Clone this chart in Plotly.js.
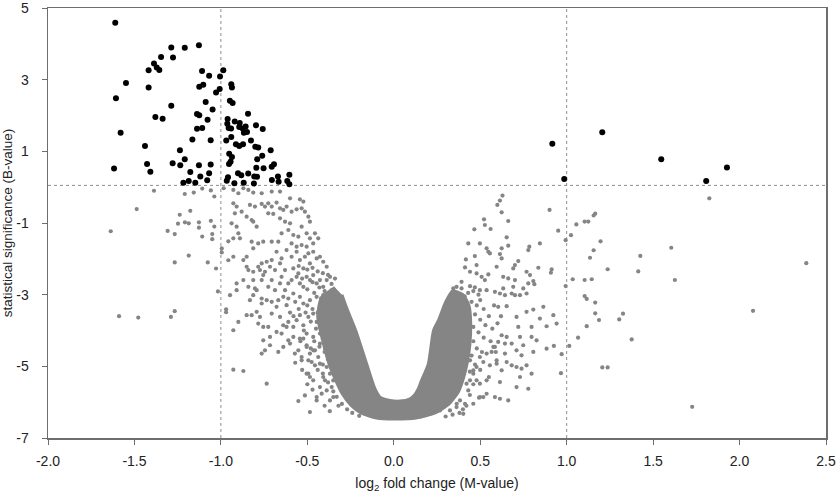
<!DOCTYPE html>
<html>
<head>
<meta charset="utf-8">
<script src="https://cdn.plot.ly/plotly-3.0.1.min.js"></script>
<style>html,body{margin:0;padding:0;background:#fff;}#chart{width:836px;height:496px;}</style>
</head>
<body>
<div id="chart"></div>
<script>
// ---- tick labels ----
const xTickVals = [-2, -1.5, -1, -0.5, 0, 0.5, 1, 1.5, 2, 2.5];
const xTickText = ['-2.0', '-1.5', '-1.0', '-0.5', '0.0', '0.5', '1.0', '1.5', '2.0', '2.5'];
const yTickVals = [-7, -5, -3, -1, 1, 3, 5];
const yTickText = ['-7', '-5', '-3', '-1', '1', '3', '5'];

// ---- significance thresholds (M and B) ----
const thresholdM = [-1, 1];
const thresholdB = 0.05;

// ---- significant genes (black), [M, B] ----
const sigLeft = [
[-1.611,4.59],[-1.607,2.48],[-1.549,2.91],[-1.580,1.52],[-1.618,0.52],[-1.418,3.26],[-1.418,2.78],[-1.387,3.45],
[-1.371,3.34],[-1.356,3.27],[-1.346,3.63],[-1.287,3.90],[-1.277,3.62],[-1.209,3.89],[-1.127,3.96],[-1.287,2.27],
[-1.379,1.96],[-1.337,1.91],[-1.439,1.15],[-1.427,0.65],[-1.408,0.43],[-1.279,0.67],[-1.237,1.03],[-1.235,0.61],
[-1.209,0.78],[-1.165,1.33],[-1.177,0.42],[-1.217,0.12],[-1.186,0.17],[-1.148,0.12],[-1.127,0.61],[-1.119,0.30],
[-1.079,0.19],[-1.068,0.39],[-1.059,0.63],[-1.059,1.31],[-1.138,1.63],[-1.108,1.65],[-1.138,2.04],[-1.125,2.01],
[-1.077,1.88],[-1.048,2.17],[-1.088,2.38],[-1.125,2.80],[-1.102,2.86],[-1.109,3.24],[-1.068,3.11],[-1.028,2.64],
[-1.007,2.74],[-1.005,3.09],[-0.986,3.26],[-0.940,2.87],[-0.936,2.78],[-0.948,2.41],[-0.932,2.35],[-0.961,1.90],
[-0.963,1.77],[-0.955,1.65],[-0.920,1.83],[-0.941,1.64],[-0.969,1.30],[-0.940,1.40],[-0.913,1.20],[-0.952,0.93],
[-0.936,0.84],[-0.944,0.71],[-0.953,0.65],[-0.959,0.28],[-0.966,0.18],[-0.901,0.39],[-0.882,0.33],[-0.868,0.12],
[-0.842,0.38],[-0.894,1.68],[-0.891,1.79],[-0.874,1.64],[-0.857,1.69],[-0.867,1.52],[-0.849,1.54],[-0.843,2.05],
[-0.894,1.15],[-0.872,1.20],[-0.826,1.30],[-0.797,1.73],[-0.758,1.62],[-0.801,1.13],[-0.784,1.11],[-0.761,0.88],
[-0.790,0.78],[-0.712,1.03],[-0.795,0.54],[-0.753,0.53],[-0.807,0.30],[-0.791,0.29],[-0.809,0.10],[-0.706,0.57],
[-0.693,0.64],[-0.705,0.20],[-0.670,0.30],[-0.922,0.11],[-0.666,0.15],[-0.616,0.17],[-0.604,0.35],[-0.604,0.08]
];
const sigRight = [[0.917,1.21],[0.986,0.23],[1.206,1.53],[1.547,0.78],[1.807,0.17],[1.927,0.55]];

// ---- non-significant genes (grey), [M, B] ----
const grayFarLeft = [
[-1.387,-0.10],[-1.487,-0.61],[-1.637,-1.23],[-1.209,-0.19],[-1.157,-0.15],[-1.108,-0.04],[-1.058,-0.09],[-1.038,-0.26],
[-1.177,-0.66],[-1.238,-0.77],[-1.248,-1.02],[-1.208,-0.98],[-1.186,-1.01],[-1.127,-0.98],[-1.127,-1.13],[-1.058,-0.94],
[-1.038,-1.10],[-1.308,-1.22],[-1.267,-1.31],[-1.108,-1.38],[-1.050,-1.31],[-1.050,-1.45],[-0.995,-1.71],[-0.995,-1.82],
[-1.186,-1.91],[-1.267,-2.10],[-1.076,-2.10],[-1.028,-2.27],[-1.017,-2.91],[-1.267,-3.46],[-1.289,-3.62],[-1.589,-3.60],
[-1.478,-3.64],[-0.970,-3.41],[-0.970,-3.49],[-0.984,-0.03],[-0.957,-1.51],[-0.957,-2.04]
];
const grayLeftArm = [
[-0.928,-0.077],[-0.899,-0.170],[-0.870,-0.030],[-0.841,-0.077],[-0.813,-0.151],[-0.764,-0.170],[-0.706,-0.123],[-0.658,-0.123],
[-0.600,-0.310],[-0.543,-0.338],[-0.523,-0.403],[-0.928,-0.450],[-0.909,-0.543],[-0.880,-0.683],[-0.919,-0.729],[-0.832,-0.496],
[-0.803,-0.543],[-0.764,-0.468],[-0.745,-0.543],[-0.726,-0.450],[-0.706,-0.543],[-0.678,-0.431],[-0.658,-0.590],[-0.639,-0.636],
[-0.620,-0.543],[-0.591,-0.683],[-0.562,-0.618],[-0.533,-0.590],[-0.514,-0.683],[-0.494,-0.823],[-0.485,-0.963],[-0.851,-0.823],
[-0.822,-0.916],[-0.813,-0.963],[-0.793,-1.102],[-0.658,-0.869],[-0.629,-0.963],[-0.600,-1.009],[-0.726,-0.729],[-0.697,-0.748],
[-0.938,-1.009],[-0.909,-1.102],[-0.899,-1.289],[-0.890,-1.429],[-0.928,-1.429],[-0.822,-1.522],[-0.784,-1.569],[-0.755,-1.522],
[-0.706,-1.522],[-0.668,-1.522],[-0.649,-1.289],[-0.610,-1.196],[-0.581,-1.335],[-0.552,-1.382],[-0.533,-1.102],[-0.504,-1.289],
[-0.485,-1.429],[-0.456,-1.289],[-0.437,-1.429],[-0.466,-1.569],[-0.591,-1.569],[-0.562,-1.662],[-0.533,-1.615],[-0.504,-1.662],
[-0.928,-1.942],[-0.870,-2.035],[-0.851,-1.942],[-0.813,-1.708],[-0.784,-2.221],[-0.764,-2.128],[-0.735,-2.081],[-0.706,-2.035],
[-0.678,-1.802],[-0.649,-1.988],[-0.620,-1.755],[-0.591,-1.942],[-0.562,-1.802],[-0.543,-2.035],[-0.514,-1.942],[-0.494,-1.848],
[-0.466,-1.802],[-0.446,-1.988],[-0.427,-1.942],[-0.408,-2.081],[-0.388,-2.221],[-0.485,-2.128],[-0.523,-2.268],[-0.552,-2.408],
[-0.581,-2.268],[-0.629,-2.314],[-0.658,-2.128],[-0.687,-2.314],[-0.716,-2.221],[-0.745,-2.361],[-0.774,-2.314],[-0.813,-2.361],
[-0.841,-2.314],[-0.851,-2.221],[-0.947,-3.014],[-0.909,-2.687],[-0.909,-2.874],[-0.870,-2.594],[-0.841,-2.781],[-0.813,-2.594],
[-0.803,-2.827],[-0.764,-2.594],[-0.755,-2.454],[-0.726,-2.781],[-0.706,-2.594],[-0.687,-2.874],[-0.658,-2.687],[-0.649,-2.501],
[-0.629,-2.874],[-0.610,-2.687],[-0.591,-2.594],[-0.562,-2.501],[-0.543,-2.687],[-0.523,-2.781],[-0.504,-2.501],[-0.485,-2.594],
[-0.466,-2.454],[-0.446,-2.687],[-0.427,-2.594],[-0.408,-2.781],[-0.388,-2.594],[-0.369,-2.501],[-0.359,-2.874],[-0.543,-3.060],
[-0.581,-2.967],[-0.610,-3.107],[-0.639,-3.060],[-0.668,-3.154],[-0.706,-3.200],[-0.735,-3.154],[-0.764,-3.107],[-0.793,-2.874],
[-0.813,-3.014],[-0.832,-3.154],[-0.764,-3.247],[-0.678,-3.340],[-0.620,-3.294],[-0.523,-3.247],[-0.485,-3.154],[-0.446,-3.060],
[-0.408,-3.014],[-0.369,-3.200],[-0.331,-2.967],[-0.928,-3.993],[-0.899,-3.760],[-0.851,-3.573],[-0.822,-3.573],[-0.793,-3.480],
[-0.774,-3.620],[-0.784,-3.806],[-0.755,-3.900],[-0.726,-3.900],[-0.706,-3.527],[-0.658,-3.620],[-0.639,-3.853],[-0.610,-3.760],
[-0.581,-3.900],[-0.562,-3.713],[-0.543,-3.573],[-0.523,-3.853],[-0.494,-3.620],[-0.466,-3.527],[-0.446,-3.760],[-0.427,-3.900],
[-0.408,-3.666],[-0.379,-3.527],[-0.350,-3.713],[-0.388,-3.993],[-0.427,-4.086],[-0.466,-4.179],[-0.504,-4.086],[-0.543,-4.226],
[-0.581,-4.179],[-0.610,-4.273],[-0.649,-4.086],[-0.678,-4.039],[-0.716,-4.179],[-0.755,-4.273],[-0.745,-4.552],[-0.764,-4.645],
[-0.716,-4.412],[-0.668,-4.599],[-0.639,-4.459],[-0.600,-4.366],[-0.572,-4.645],[-0.552,-4.552],[-0.533,-4.739],[-0.504,-4.459],
[-0.485,-4.645],[-0.456,-4.552],[-0.427,-4.366],[-0.398,-4.506],[-0.369,-4.273],[-0.350,-4.645],[-0.928,-5.093],[-0.870,-5.130],
[-0.735,-5.485],[-0.552,-5.969],[-0.485,-6.277],[-0.514,-5.811],[-0.504,-5.205],[-0.485,-5.298],[-0.466,-5.391],[-0.446,-5.951],
[-0.427,-5.578],[-0.417,-5.764],[-0.398,-5.391],[-0.369,-5.205],[-0.388,-5.018],[-0.359,-5.578],[-0.350,-5.858],[-0.340,-5.018],
[-0.456,-4.972],[-0.475,-4.879],[-0.494,-4.832],[-0.437,-4.739],[-0.523,-4.226],[-0.504,-4.413],[-0.533,-4.832],[-0.494,-5.205],
[-0.446,-5.858],[-0.465,-4.552],[-0.427,-4.925],[-0.408,-5.298],[-0.388,-5.671],[-0.369,-5.951],[-0.350,-5.392]
];
const grayLeftHalo = [
[-0.55,-2.20],[-0.50,-2.30],[-0.47,-2.25],[-0.44,-2.35],[-0.41,-2.40],[-0.38,-2.45],[-0.53,-2.55],[-0.47,-2.65],
[-0.43,-2.80],[-0.40,-2.90],[-0.36,-2.70],[-0.34,-2.55],[-0.50,-2.85],[-0.46,-2.95],[-0.42,-3.10],[-0.39,-3.20],
[-0.36,-3.35],[-0.50,-3.30],[-0.47,-3.40],[-0.44,-3.50],[-0.41,-3.55],[-0.39,-3.80],[-0.42,-3.85],[-0.45,-3.95],
[-0.48,-3.75],[-0.51,-3.50],[-0.55,-3.40],[-0.57,-3.20],[-0.46,-4.30],[-0.43,-4.45],[-0.40,-4.60],[-0.38,-4.80],
[-0.41,-4.95],[-0.44,-5.10],[-0.41,-5.20],[-0.38,-5.45],[-0.35,-5.70],[-0.33,-5.85],[-0.30,-6.05],[-0.27,-6.20],
[-0.24,-6.30],[-0.20,-6.38],[-0.32,-6.10],[-0.52,-4.00],[-0.48,-4.50],[-0.54,-4.30],[-0.58,-3.60],[-0.60,-3.50],
[-0.62,-3.90],[-0.57,-4.90],[-0.53,-5.10],[-0.50,-5.50],[-0.47,-5.65],[-0.40,-6.10],[-0.37,-6.25]
];
const grayRightArm = [
[0.629,-0.235],[0.614,-0.375],[0.599,-0.496],[0.624,-0.701],[0.662,-0.944],[0.522,-0.897],[0.527,-1.056],[0.466,-1.177],
[0.560,-1.168],[0.901,-0.636],[0.951,-1.214],[0.431,-1.569],[0.498,-1.569],[0.653,-1.401],[0.662,-1.634],[0.624,-1.708],
[0.537,-1.708],[0.547,-1.802],[0.556,-1.848],[0.614,-1.867],[0.784,-1.662],[0.778,-1.755],[0.845,-1.569],[0.469,-1.923],
[0.479,-2.175],[0.417,-2.016],[0.412,-2.240],[0.441,-2.361],[0.479,-2.408],[0.508,-2.501],[0.527,-2.594],[0.547,-2.436],
[0.595,-2.221],[0.624,-1.988],[0.691,-2.268],[0.701,-2.175],[0.720,-2.063],[0.768,-2.361],[0.788,-2.454],[0.807,-2.622],
[0.813,-2.706],[0.836,-2.249],[0.913,-2.296],[0.909,-2.389],[0.633,-2.501],[0.662,-2.548],[0.701,-2.594],[0.691,-2.781],
[0.749,-2.827],[0.778,-2.687],[0.768,-2.967],[0.730,-3.014],[0.701,-3.014],[0.682,-2.967],[0.633,-2.827],[0.585,-2.921],
[0.614,-2.967],[0.643,-3.014],[0.537,-2.874],[0.498,-2.874],[0.469,-2.799],[0.441,-2.762],[0.392,-2.641],[0.392,-2.827],
[0.363,-2.781],[0.344,-2.827],[0.340,-2.921],[0.373,-3.014],[0.604,-3.340],[0.653,-3.321],[0.710,-3.620],[0.720,-3.900],
[0.768,-3.480],[0.807,-3.415],[0.865,-3.340],[0.845,-3.666],[0.884,-3.881],[0.923,-3.573],[0.942,-3.806],[0.797,-3.900],
[0.730,-4.179],[0.749,-4.412],[0.797,-4.179],[0.826,-4.273],[0.807,-4.599],[0.768,-4.972],[0.739,-4.692],[0.710,-4.552],
[0.682,-4.366],[0.653,-4.179],[0.624,-4.133],[0.643,-4.366],[0.604,-4.319],[0.585,-4.459],[0.566,-4.599],[0.537,-4.645],
[0.518,-4.879],[0.556,-4.972],[0.595,-4.832],[0.624,-5.112],[0.653,-4.879],[0.643,-4.645],[0.682,-4.972],[0.710,-5.018],
[0.739,-5.065],[0.797,-5.205],[0.730,-5.298],[0.778,-5.625],[0.710,-5.578],[0.614,-5.438],[0.585,-5.858],[0.614,-5.904],
[0.662,-5.951],[0.518,-5.858],[0.493,-5.876],[0.498,-5.485],[0.537,-5.391],[0.479,-5.391],[0.460,-5.205],[0.479,-5.018],
[0.498,-4.739],[0.441,-4.832],[0.421,-4.645],[0.884,-4.506],[0.926,-4.431],[0.431,-5.671],[0.412,-6.044],[0.383,-5.951],
[0.363,-6.137],[0.325,-6.231],[0.267,-6.231],[0.209,-6.324],[0.441,-5.391],[0.383,-4.273],[0.421,-4.739],[0.460,-5.112],
[0.499,-5.858],[0.537,-5.765],[0.421,-5.485],[0.595,-4.925],[0.576,-4.459],[0.364,-6.044],[0.460,-6.044],[0.402,-6.324]
];
const grayRightHalo = [
[0.45,-3.20],[0.48,-3.30],[0.50,-3.15],[0.52,-3.40],[0.47,-3.55],[0.50,-3.70],[0.53,-3.85],[0.46,-3.90],
[0.49,-4.05],[0.52,-4.20],[0.46,-4.30],[0.48,-4.50],[0.51,-4.60],[0.45,-4.70],[0.47,-4.95],[0.50,-5.10],
[0.44,-5.15],[0.46,-5.50],[0.44,-5.80],[0.42,-6.10],[0.40,-6.20],[0.55,-3.60],[0.57,-3.95],[0.56,-4.30],
[0.55,-5.30],[0.58,-3.30],[0.43,-2.95],[0.46,-2.90],[0.49,-3.00],[0.41,-3.05],[0.38,-6.30],[0.34,-6.35],
[0.30,-6.40],[0.60,-3.80],[0.62,-3.60],[0.59,-4.60]
];
const grayFarRight = [
[1.825,-0.31],[1.165,-0.74],[1.156,-0.79],[1.104,-0.96],[1.125,-0.96],[1.056,-1.04],[1.025,-1.34],[0.994,-1.48],
[1.196,-1.51],[1.156,-1.76],[1.135,-1.97],[1.237,-2.29],[1.035,-2.57],[1.104,-2.59],[1.145,-2.57],[0.994,-2.76],
[1.104,-3.04],[1.116,-3.12],[1.165,-3.22],[1.165,-3.52],[1.187,-3.71],[1.326,-3.53],[1.304,-3.69],[1.116,-3.88],
[1.066,-4.20],[1.376,-4.25],[1.015,-4.43],[0.971,-4.66],[0.967,-5.19],[1.206,-5.03],[1.237,-5.03],[1.726,-6.13],
[1.605,-1.69],[1.426,-1.92],[1.414,-2.35],[1.626,-2.59],[2.078,-3.45],[2.386,-2.12]
];

// ---- outline of the saturated (fully overlapping) grey core of the V ----
const coreM = [-0.34,-0.42,-0.44,-0.425,-0.40,-0.37,-0.335,-0.30,-0.245,-0.19,-0.10,0.00,0.13,0.24,0.32,0.375,0.405,0.425,0.44,0.445,0.435,0.40,0.34,0.30,0.26,0.23,0.20,0.16,0.142,0.12,0.094,0.036,-0.022,-0.080,-0.109,-0.157,-0.22,-0.27,-0.30];
const coreB = [-2.80,-3.10,-3.60,-4.00,-4.50,-5.00,-5.40,-5.75,-6.10,-6.30,-6.44,-6.47,-6.44,-6.30,-6.05,-5.70,-5.30,-4.90,-4.40,-3.80,-3.30,-3.00,-2.90,-3.20,-3.70,-4.00,-4.93,-5.40,-5.625,-5.80,-5.904,-5.97,-5.951,-5.858,-5.625,-4.93,-4.00,-3.40,-3.00];

const GREY = '#858585';
const FONT = 'Liberation Sans, Arial, sans-serif';

const grayAll = grayFarLeft.concat(grayLeftArm, grayLeftHalo, grayRightArm, grayRightHalo, grayFarRight);
const sigAll = sigLeft.concat(sigRight);

const traces = [
  {type:'scatter', mode:'lines', x:coreM, y:coreB, fill:'toself', fillcolor:GREY,
   line:{color:GREY, width:3, shape:'spline', smoothing:0.6}, hoverinfo:'skip', showlegend:false},
  {type:'scatter', mode:'markers', x:grayAll.map(p=>p[0]), y:grayAll.map(p=>p[1]),
   marker:{color:GREY, size:4.2, line:{width:0}}, showlegend:false},
  {type:'scatter', mode:'markers', x:sigAll.map(p=>p[0]), y:sigAll.map(p=>p[1]),
   marker:{color:'#000000', size:6, line:{width:0}}, showlegend:false}
];

const refLine = {color:'#8e8e8e', width:1, dash:'dot'};
const shapes = thresholdM.map(v => ({type:'line', xref:'x', yref:'paper', x0:v, x1:v, y0:0, y1:1, line:refLine, layer:'below'}));
shapes.push({type:'line', xref:'paper', yref:'y', x0:0, x1:1, y0:thresholdB, y1:thresholdB, line:refLine, layer:'below'});

const layout = {
  width:836, height:496,
  margin:{l:48, r:10, t:8, b:58, pad:0},
  paper_bgcolor:'#ffffff', plot_bgcolor:'#ffffff',
  font:{family:FONT, size:14, color:'#222222'},
  xaxis:{range:[-2,2.5], tickvals:xTickVals, ticktext:xTickText, ticks:'outside', ticklen:5,
         tickcolor:'#6e6e6e', showline:true, linecolor:'#6e6e6e', linewidth:1.5, mirror:true,
         showgrid:false, zeroline:false, ticklabelstandoff:5, ticklabeloverflow:'allow',
         tickfont:{family:FONT, size:14, color:'#222'},
         title:{text:'log<sub>2</sub> fold change (M-value)', font:{family:FONT, size:14, color:'#222'}, standoff:10}},
  yaxis:{range:[-7,5], tickvals:yTickVals, ticktext:yTickText, ticks:'outside', ticklen:5,
         tickcolor:'#6e6e6e', showline:true, linecolor:'#6e6e6e', linewidth:1.5, mirror:true,
         showgrid:false, zeroline:false, ticklabelstandoff:10, ticklabeloverflow:'allow',
         tickfont:{family:FONT, size:14, color:'#222'},
         title:{text:'statistical significance (B-value)', font:{family:FONT, size:13.5, color:'#222'}, standoff:4}},
  shapes:shapes,
  showlegend:false
};

Plotly.newPlot('chart', traces, layout, {displayModeBar:false, staticPlot:true});
</script>
</body>
</html>
